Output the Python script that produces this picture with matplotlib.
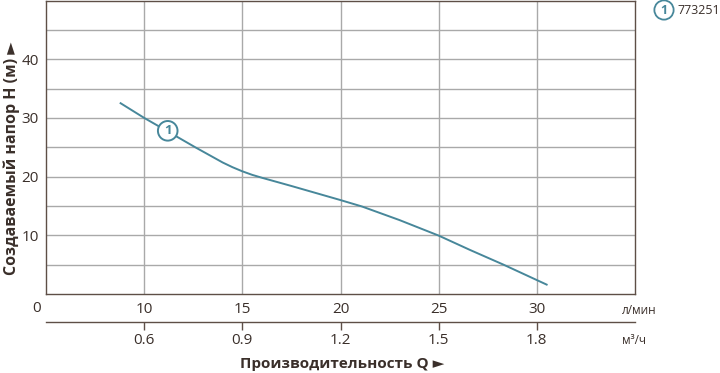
import matplotlib
matplotlib.use('Agg')
import matplotlib.pyplot as plt

# Pump curve 773251, flow in l/min, head in m
flow_lpm = [8.8, 10.0, 11.2, 12.6, 14.0, 14.5, 15.0, 15.5, 16.0, 17.5, 20.0, 21.1, 23.0, 25.0, 26.6, 28.3, 30.5]
head_m = [32.5, 30.0, 27.7, 25.0, 22.4, 21.6, 20.9, 20.3, 19.8, 18.4, 16.0, 14.9, 12.6, 9.95, 7.5, 5.0, 1.6]

lpm_ticks = [10, 15, 20, 25, 30]
m3h_ticks = [0.6, 0.9, 1.2, 1.5, 1.8]
head_ticks = [5, 10, 15, 20, 25, 30, 35, 40, 45]
model = "773251"

TEAL = '#47879a'
TEXT = '#3a2f2a'
SPINE = '#5e4f47'
GRID = '#a9a9a9'

plt.rcParams['font.family'] = ['Open Sans', 'DejaVu Sans']

fig = plt.figure(figsize=(7.2, 3.73), dpi=100)
W, H = 720, 373


def fx(px):
    return px / W


def fy(py):
    return 1 - py / H


ax = fig.add_axes([fx(46), fy(294), fx(635) - fx(46), fy(0.5) - fy(294)])
ax.set_xlim(5, 35)
ax.set_ylim(0, 50)

ax.set_xticks(lpm_ticks)
ax.set_xticklabels([str(t) for t in lpm_ticks])
ax.set_yticks(head_ticks)
ax.set_yticklabels([str(t) if t % 10 == 0 else '' for t in head_ticks])
ax.tick_params(length=0, labelsize=11, colors=TEXT)
ax.tick_params(axis='x', pad=6)
ax.tick_params(axis='y', pad=5)
ax.grid(True, color=GRID, linewidth=1.0)
ax.set_axisbelow(True)
for s in ax.spines.values():
    s.set_color(SPINE)
    s.set_linewidth(1.0)

ax.plot(flow_lpm, head_m, color=TEAL, linewidth=1.4, solid_joinstyle='round')

# curve marker
ax.text(11.2, 27.8, '1', ha='center', va='center', fontsize=9.5, fontweight='bold',
        color=TEAL, bbox=dict(boxstyle='circle,pad=0.25', fc='white', ec=TEAL, lw=1.4))

# second axis in m3/h
ax2 = fig.add_axes([fx(46), fy(322), fx(635) - fx(46), 0.001])
ax2.set_xlim(5, 35)
ax2.set_xticks([q * 1000 / 60 for q in m3h_ticks])
ax2.set_xticklabels([f'{q:.1f}' for q in m3h_ticks])
ax2.set_yticks([])
ax2.patch.set_visible(False)
for side in ['top', 'left', 'right']:
    ax2.spines[side].set_visible(False)
ax2.spines['bottom'].set_color(SPINE)
ax2.spines['bottom'].set_linewidth(1.0)
ax2.tick_params(axis='x', direction='out', length=6, width=1.0, color=SPINE,
                labelsize=11, labelcolor=TEXT, pad=2)

fig.text(fx(37), fy(308), '0', ha='center', va='center', fontsize=11, color=TEXT)
fig.text(fx(622), fy(310), 'л/мин', ha='left', va='center', fontsize=8.5, color=TEXT)
fig.text(fx(622), fy(341), 'м³/ч', ha='left', va='center', fontsize=8.5, color=TEXT)

fig.text(fx(342), fy(364), 'Производительность Q ►', ha='center', va='center',
         fontsize=11, fontweight='bold', color=TEXT)
fig.text(fx(12), fy(158), 'Создаваемый напор H (м) ►', ha='center', va='center',
         rotation=90, fontsize=11.5, fontweight='bold', color=TEXT)

# legend
fig.text(fx(664), fy(10), '1', ha='center', va='center', fontsize=9, fontweight='bold',
         color=TEAL, bbox=dict(boxstyle='circle,pad=0.25', fc='white', ec=TEAL, lw=1.3))
fig.text(fx(677), fy(10), model, ha='left', va='center', fontsize=9, color=TEXT)

fig.savefig('out.png', dpi=100)
plt.close(fig)
